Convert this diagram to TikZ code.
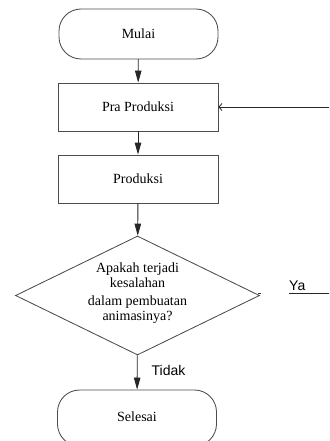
\documentclass[tikz,border=0pt]{standalone}
\usepackage{fontspec}
\setmainfont{Liberation Serif}
\newfontfamily\arialfont{Liberation Sans}
\usetikzlibrary{arrows.meta,shapes.geometric}
\begin{document}
\begin{tikzpicture}[x=1pt,y=-1pt,
  shapeline/.style={draw=black!70, line width=0.85pt},
  boxfont/.style={font=\fontsize{14}{15}\selectfont},
  term/.style={shapeline, boxfont, rounded corners=22pt, minimum width=159pt, minimum height=50pt, inner sep=0pt},
  procbox/.style={shapeline, boxfont, minimum width=160pt, minimum height=48pt, inner sep=0pt},
  decision/.style={shapeline, shape=diamond, minimum width=244pt, minimum height=119pt, inner sep=0pt},
  conn/.style={draw=black!85, line width=0.85pt, -{Triangle[width=6.5pt,length=12pt]}},
  backconn/.style={draw=black!85, line width=0.85pt, -{Straight Barb[length=3pt,width=7pt]}},
  lbl/.style={font=\arialfont\fontsize{14}{15}\selectfont, inner sep=0pt}
]
\useasboundingbox (0,0) rectangle (329,441);
\clip (0,0) rectangle (329,441);

\node[term] (mulai) at (138.5,34) {Mulai};
\node[procbox] (pra) at (138,107) {Pra Produksi};
\node[procbox] (prod) at (138,179) {Produksi};
\node[decision] (dec) at (137.5,295.5) {};
\node[boxfont, align=center, inner sep=0pt] (dectext) at (137.5,293)
  {Apakah terjadi\\kesalahan\\[3pt]dalam pembuatan\\animasinya?};
\node[term, minimum height=56pt] (selesai) at (137,418) {\raisebox{3pt}{Selesai}};

\draw[conn] (mulai) -- (pra);
\draw[conn] (pra) -- (prod);
\draw[conn] (prod) -- (dec);
\draw[conn] (dec) -- node[lbl, anchor=west, xshift=14pt, pos=0.45] (tidak) {Tidak} (selesai);

% stray tick at the right tip
\draw[black!80, line width=0.6pt] ([xshift=-2pt,yshift=2pt]dec.east) -- ++(3,0);

% "Ya" branch back to Pra Produksi (vertical part lies beyond the frame)
\coordinate (yaA) at (289,293);
\coordinate (yaB) at (331,293);
\node[lbl, anchor=south west] (ya) at (289,290.5) {Ya};
\draw[backconn] (yaA) -- (yaB) |- (pra.east);
\end{tikzpicture}
\end{document}
